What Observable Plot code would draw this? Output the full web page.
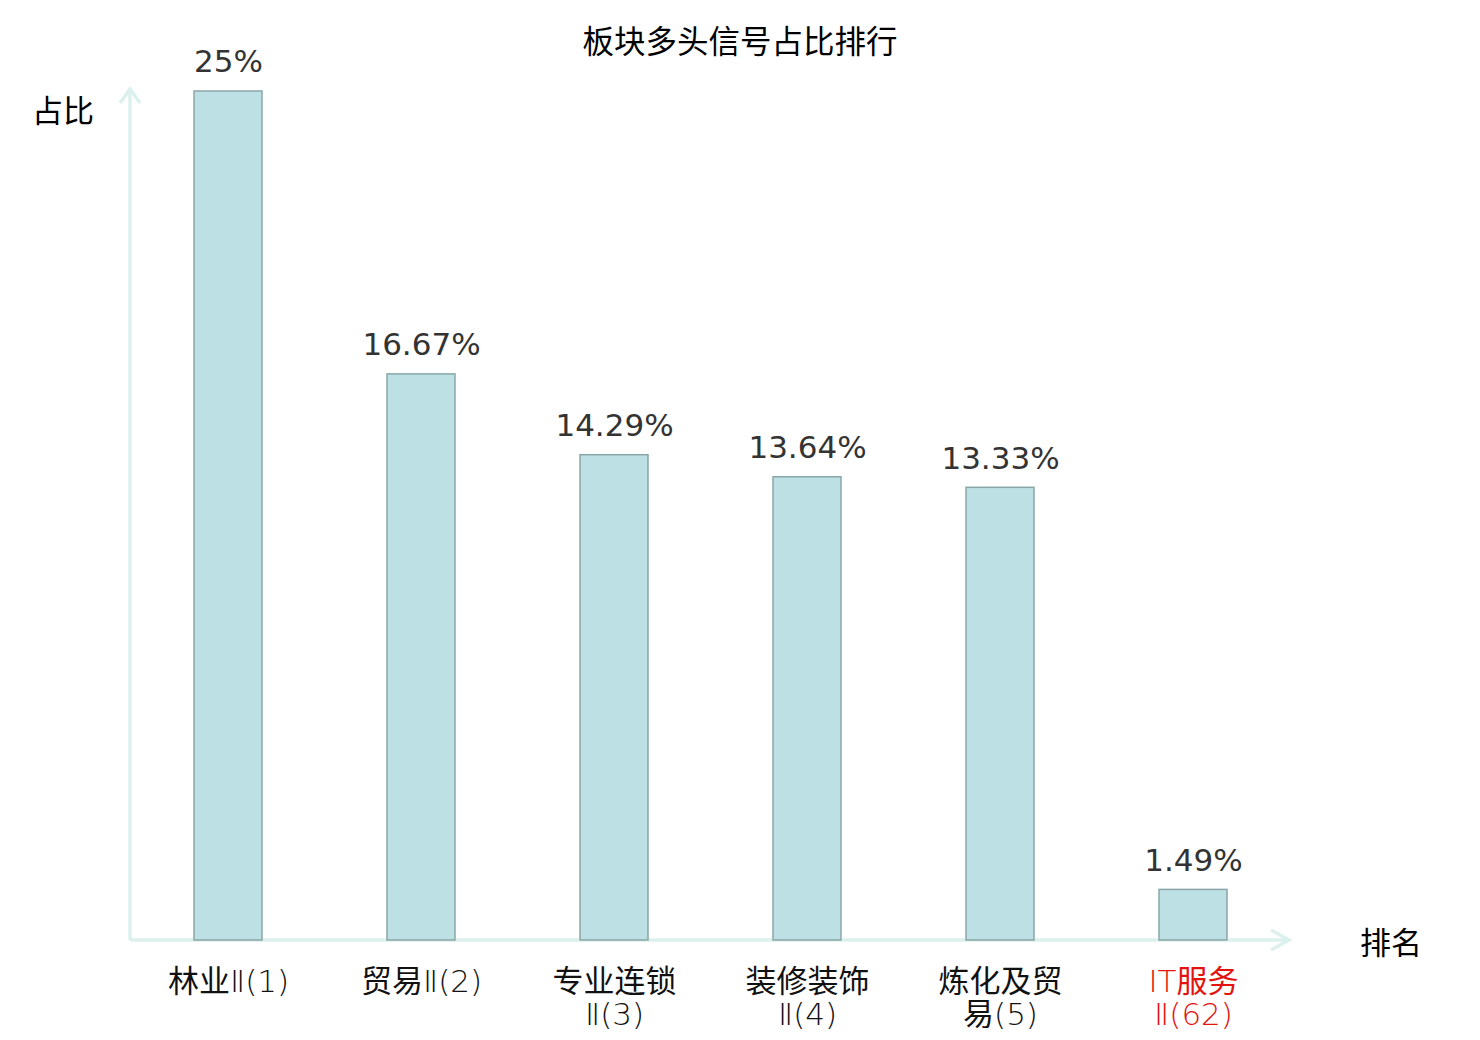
<!DOCTYPE html>
<html><head><meta charset="utf-8">
<script src="https://cdn.jsdelivr.net/npm/d3@7"></script>
<script src="https://cdn.jsdelivr.net/npm/@observablehq/plot@0.6"></script>
<style>
body{margin:0;background:#fff;}
#wrap{position:relative;width:1480px;height:1040px;font-family:"Noto Sans CJK SC",sans-serif;}
.t{position:absolute;white-space:nowrap;color:#000;line-height:1;}
</style></head>
<body><div id="wrap">
<div class="t" style="left:0;width:1480px;text-align:center;top:24px;font-size:31.5px;">板块多头信号占比排行</div>
<div class="t" style="left:32px;top:93px;font-size:31px;">占比</div>
<div class="t" style="left:1360px;top:925px;font-size:31px;">排名</div>
</div>
<script>
const categories = ["林业Ⅱ(1)", "贸易Ⅱ(2)", "专业连锁Ⅱ(3)", "装修装饰Ⅱ(4)", "炼化及贸易(5)", "IT服务Ⅱ(62)"];
const tickLabels = ["林业Ⅱ(1)", "贸易Ⅱ(2)", "专业连锁\nⅡ(3)", "装修装饰\nⅡ(4)", "炼化及贸\n易(5)", "IT服务\nⅡ(62)"];
const values = [25, 16.67, 14.29, 13.64, 13.33, 1.49];
const valueLabels = ["25%", "16.67%", "14.29%", "13.64%", "13.33%", "1.49%"];
const highlight = "IT服务Ⅱ(62)";

const data = categories.map((c, i) => ({cat: c, v: values[i], label: valueLabels[i], tick: tickLabels[i]}));
const axisColor = "#dcf0ee";

function axes(index, scales, values, dim) {
  const ns = "http://www.w3.org/2000/svg";
  const g = document.createElementNS(ns, "g");
  const x0 = dim.marginLeft, y0 = dim.height - dim.marginBottom;
  const x1 = dim.width - dim.marginRight, yTop = dim.marginTop - 3;
  const paths = [
    `M${x0},${y0}L${x0},${yTop}`,
    `M${x0 - 10},${yTop + 15}L${x0},${yTop + 1}L${x0 + 10},${yTop + 15}`,
    `M${x0},${y0}L${x1},${y0}`,
    `M${x1 - 19},${y0 - 10}L${x1 - 1},${y0}L${x1 - 19},${y0 + 10}`
  ];
  for (const d of paths) {
    const p = document.createElementNS(ns, "path");
    p.setAttribute("d", d);
    p.setAttribute("fill", "none");
    p.setAttribute("stroke", axisColor);
    p.setAttribute("stroke-width", 3.5);
    g.appendChild(p);
  }
  return g;
}

const plot = Plot.plot({
  width: 1480,
  height: 1040,
  marginLeft: 130,
  marginRight: 190,
  marginTop: 91,
  marginBottom: 100,
  style: {fontFamily: '"Noto Sans CJK SC", sans-serif', background: "transparent"},
  x: {domain: categories, paddingInner: 0.65, paddingOuter: 0.325, axis: null},
  y: {domain: [0, 25], axis: null},
  marks: [
    axes,
    Plot.barY(data, {x: "cat", y: "v", fill: "#bce0e3", stroke: "#8aa6a8", strokeWidth: 1.5}),
    Plot.text(data, {x: "cat", y: "v", text: "label", dy: -29, fontSize: 31, fill: "#333", fontFamily: "DejaVu Sans"}),
    Plot.text(data, {x: "cat", y: 0, text: "tick", lineAnchor: "top", dy: 29, fontSize: 31, lineHeight: 1.04,
      fontFamily: '"DejaVu Sans Light", "DejaVu Sans ExtraLight", "Noto Sans CJK SC", sans-serif',
      fill: d => d.cat === highlight ? "#e3130f" : "#111"})
  ]
});
plot.style.position = "absolute";
plot.style.left = "0";
plot.style.top = "0";
document.getElementById("wrap").prepend(plot);
</script>
</body></html>
